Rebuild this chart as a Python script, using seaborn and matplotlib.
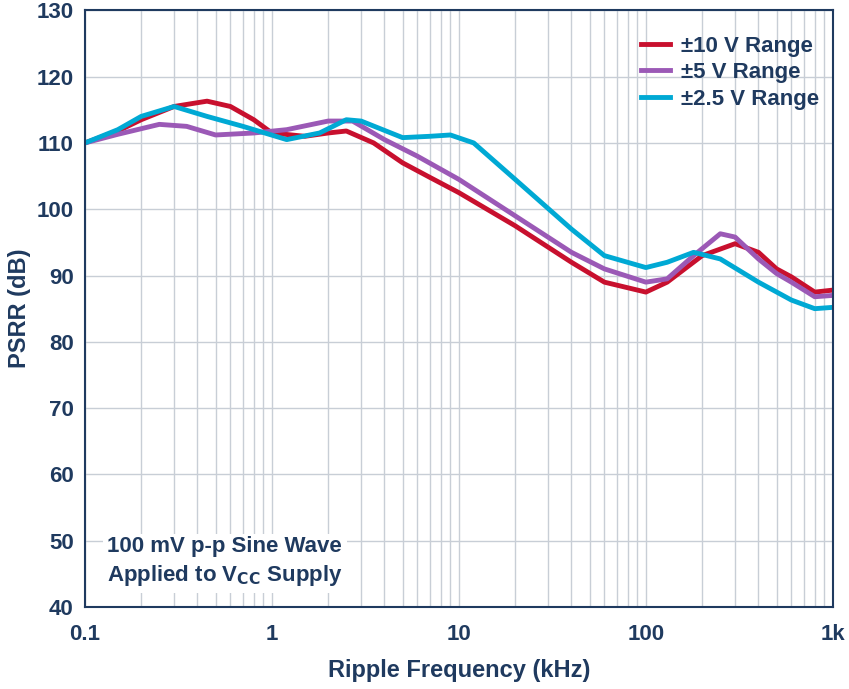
import matplotlib
matplotlib.use("Agg")
import matplotlib.pyplot as plt
import seaborn as sns
import pandas as pd

f_red = [0.1,0.15,0.2,0.3,0.45,0.6,0.8,1,1.5,2,2.5,3.5,5,7,10,20,40,60,100,130,200,300,400,500,600,800,1000]
v_red = [110,111.8,113.5,115.5,116.3,115.5,113.5,111.5,111,111.5,111.8,110,107,104.8,102.5,97.5,92,89,87.5,89,93,94.8,93.5,91,89.8,87.5,87.8]
f_pur = [0.1,0.15,0.25,0.35,0.5,0.8,1.2,2,2.7,4,6,10,20,40,60,100,130,180,250,300,400,500,600,800,1000]
v_pur = [110,111.3,112.8,112.5,111.2,111.5,112,113.3,113.3,110.5,108,104.5,99,93.5,91,89,89.5,93,96.3,95.8,92.5,90.3,89,86.8,87]
f_cya = [0.1,0.15,0.2,0.3,0.45,0.7,1.2,1.8,2.5,3,5,7,9,12,20,40,60,100,130,180,250,400,600,800,1000]
v_cya = [110,112,114,115.5,114,112.5,110.5,111.5,113.5,113.3,110.8,111,111.2,110,104.5,97,93,91.2,92,93.5,92.5,89,86.3,85,85.2]

labels = ["±10 V Range", "±5 V Range", "±2.5 V Range"]
colors = ["#c8102e", "#9b59b6", "#00a9d4"]

rows = []
for lab, f, v in zip(labels, [f_red, f_pur, f_cya], [v_red, v_pur, v_cya]):
    for a, b in zip(f, v):
        rows.append({"f": a, "v": b, "s": lab})
df = pd.DataFrame(rows)

navy = "#1f3a5f"
plt.rcParams["font.family"] = "Liberation Sans"
plt.rcParams["font.weight"] = "bold"
fig, ax = plt.subplots(figsize=(8.49, 6.89), dpi=100)
fig.subplots_adjust(left=0.1, right=0.981, top=0.985, bottom=0.119)
sns.lineplot(data=df, x="f", y="v", hue="s", palette=colors, linewidth=3.5, ax=ax, sort=False)
ax.set_xscale("log")
ax.set_xlim(0.1, 1000)
ax.set_ylim(40, 130)
ax.set_yticks(range(40, 131, 10))
ax.set_xticks([0.1, 1, 10, 100, 1000])
ax.set_xticklabels(["0.1", "1", "10", "100", "1k"])
ax.grid(True, which="both", color="#c8ced6", linewidth=1)
ax.set_axisbelow(True)
for s in ax.spines.values():
    s.set_color(navy); s.set_linewidth(1.5)
ax.tick_params(labelsize=16, colors=navy, which="both", length=0)
ax.tick_params(axis="x", pad=12)
ax.tick_params(axis="y", pad=8)
ax.set_xlabel("Ripple Frequency (kHz)", fontsize=17, color=navy, fontweight="bold", labelpad=10)
ax.set_ylabel("PSRR (dB)", fontsize=17, color=navy, fontweight="bold", labelpad=4)
leg = ax.legend(loc="upper right", bbox_to_anchor=(1.0, 0.98), frameon=False, fontsize=16, handlelength=1.3,
                borderaxespad=0.2, labelspacing=0.25, handletextpad=0.5)
for t in leg.get_texts():
    t.set_color(navy)
ax.text(0.131, 42.8, "100 mV p-p Sine Wave\nApplied to V$_{\\mathbf{CC}}$ Supply", fontsize=16, color=navy,
        fontweight="bold", va="bottom", ha="left", multialignment="left", linespacing=1.35,
        bbox=dict(fc="white", ec="none", pad=3))
fig.savefig("out.png", dpi=100)
